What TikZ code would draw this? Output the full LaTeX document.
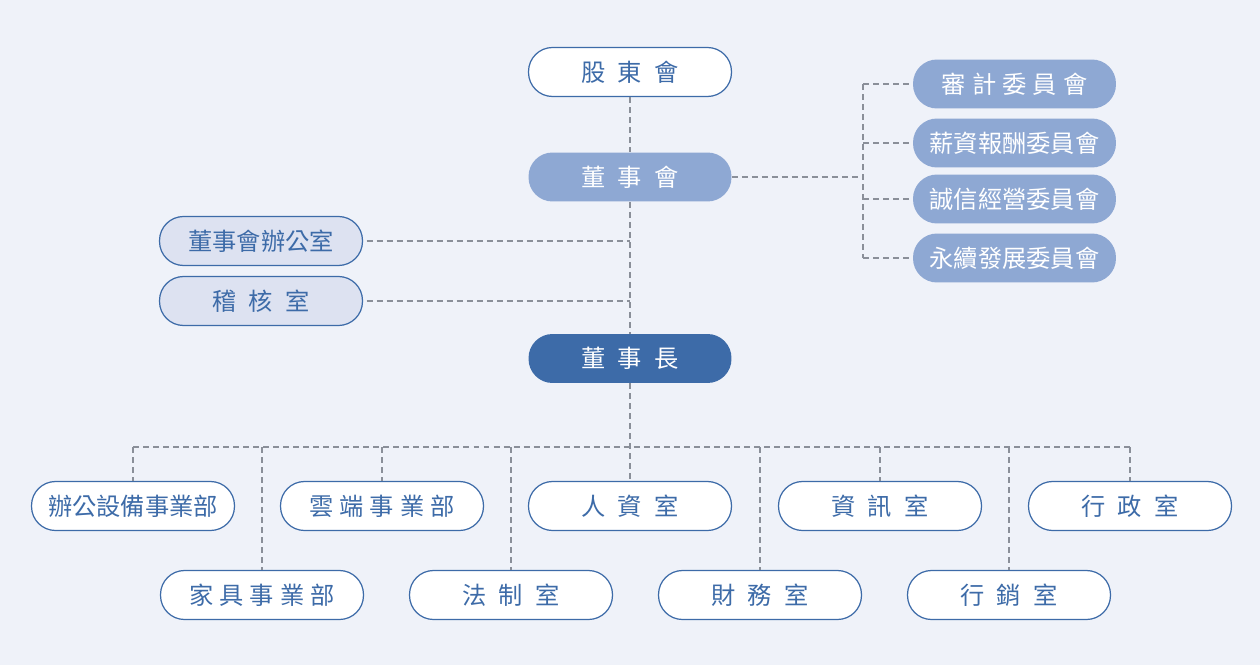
\documentclass[tikz,border=0pt]{standalone}
\usepackage{fontspec}
\usepackage{xcolor}
\newfontfamily\cjkfont{Noto Sans CJK TC}
\usetikzlibrary{positioning}

\definecolor{pagebg}{HTML}{EFF2F9}
\definecolor{orgblue}{HTML}{3D6BA8}
\definecolor{midblue}{HTML}{8EA8D3}
\definecolor{paleblue}{HTML}{DDE2F1}
\definecolor{linkgray}{HTML}{8A8F99}
\newcommand{\wsp}{\hspace{0.5em}}
\newcommand{\nsp}{\hspace{0.25em}}

\begin{document}
\begin{tikzpicture}[x=0.02cm, y=-0.02cm,
    unit/.style={rounded corners=0.48cm, minimum width=4.06cm, minimum height=0.98cm, inner sep=0pt, font=\cjkfont\fontsize{13.8}{16}\selectfont},
    plainunit/.style={unit, draw=orgblue, line width=0.7pt, fill=white, text=orgblue},
    paleunit/.style={unit, draw=orgblue, line width=0.7pt, fill=paleblue, text=orgblue},
    boardunit/.style={unit, fill=midblue, text=white},
    chairunit/.style={unit, fill=orgblue, text=white},
    link/.style={draw=linkgray, line width=0.65pt, dash pattern=on 3.4pt off 2.3pt}]
                    \fill[pagebg] (0, 0) rectangle (1260, 665);

                    \node[plainunit] (shareholders) at (630, 72) {股\wsp 東\wsp 會};
                    \node[boardunit] (board) at (630, 177) {董\wsp 事\wsp 會};
                    \node[boardunit] (audit) at (1014.5, 84) {審\nsp 計\nsp 委\nsp 員\nsp 會};
                    \node[boardunit] (remun) at (1014.5, 143) {薪資報酬委員會};
                    \node[boardunit] (integrity) at (1014.5, 199) {誠信經營委員會};
                    \node[boardunit] (sustain) at (1014.5, 258) {永續發展委員會};
                    \node[paleunit] (boardoffice) at (261, 241) {董事會辦公室};
                    \node[paleunit] (auditoffice) at (261, 301) {稽\wsp 核\wsp 室};
                    \node[chairunit] (chairman) at (630, 358.5) {董\wsp 事\wsp 長};

                    \node[plainunit] (officebiz) at (133, 506) {辦公設備事業部};
                    \node[plainunit] (cloudbiz) at (382, 506) {雲\nsp 端\nsp 事\nsp 業\nsp 部};
                    \node[plainunit] (hr) at (630, 506) {人\wsp 資\wsp 室};
                    \node[plainunit] (infotech) at (880, 506) {資\wsp 訊\wsp 室};
                    \node[plainunit] (admin) at (1130, 506) {行\wsp 政\wsp 室};
                    \node[plainunit] (furniture) at (262, 595) {家\nsp 具\nsp 事\nsp 業\nsp 部};
                    \node[plainunit] (legal) at (511, 595) {法\wsp 制\wsp 室};
                    \node[plainunit] (finance) at (760, 595) {財\wsp 務\wsp 室};
                    \node[plainunit] (marketing) at (1009, 595) {行\wsp 銷\wsp 室};

                    \coordinate (cmtjoint) at (863, 177);
                    \coordinate (deptbus) at (630, 447);

                    \draw[link] (shareholders) -- (board);
                    \draw[link] (board) -- (chairman);
                    \draw[link] (board.east) -- (cmtjoint);
                    \draw[link] (cmtjoint |- audit.west) -- (cmtjoint |- sustain.west);
                    \foreach \c in {audit, remun, integrity, sustain}
                        \draw[link] (cmtjoint |- \c.west) -- (\c.west);
                    \draw[link, shorten <=2pt] (boardoffice.east) -- (boardoffice.east -| board);
                    \draw[link, shorten <=2pt] (auditoffice.east) -- (auditoffice.east -| board);

                    \draw[link] (chairman) -- (hr);
                    \draw[link] (officebiz.north |- deptbus) -- (admin.north |- deptbus);
                    \foreach \d in {officebiz, furniture, cloudbiz, legal, finance, infotech, marketing, admin}
                        \draw[link] (\d.north |- deptbus) -- (\d.north);
                \end{tikzpicture}
\end{document}
